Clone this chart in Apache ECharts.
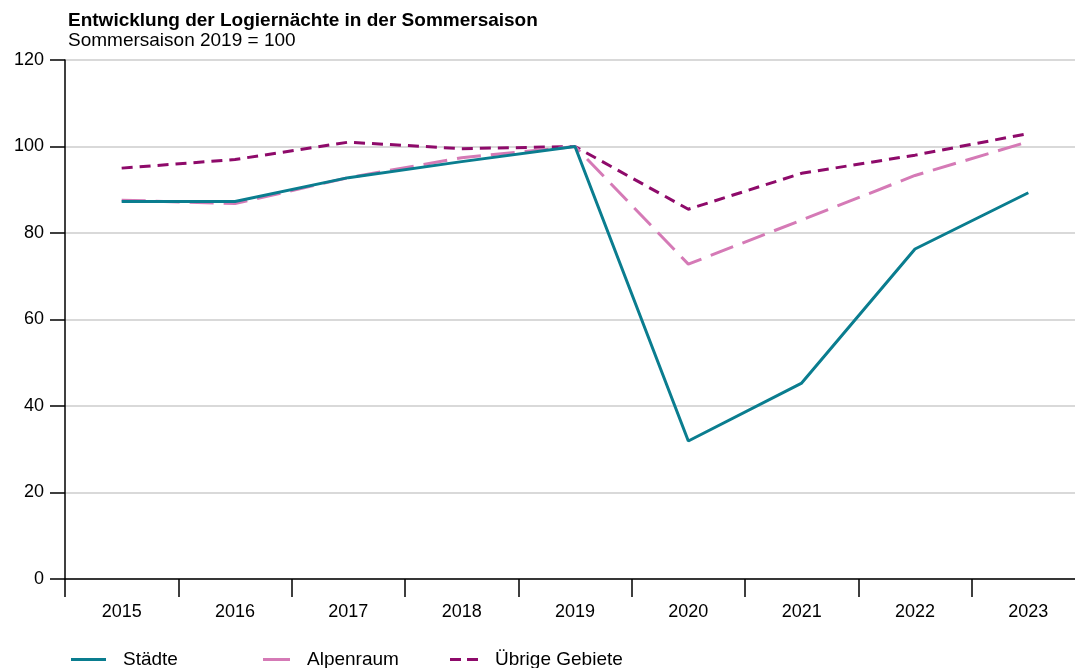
<!DOCTYPE html>
<html>
<head>
<meta charset="utf-8">
<script src="https://cdn.jsdelivr.net/npm/echarts@6/dist/echarts.min.js"></script>
<style>
  html, body { margin: 0; padding: 0; background: #fff; overflow: hidden; }
  /* etwas breiter als das Fenster: die Zeichenfläche läuft rechts aus dem Bild */
  #chart { width: 1085px; height: 668px; }
</style>
</head>
<body>
<div id="chart"></div>
<script>
// Jahre und Indexwerte (Sommersaison 2019 = 100)
var years = ['2015', '2016', '2017', '2018', '2019', '2020', '2021', '2022', '2023'];
var staedte = [87.3, 87.3, 92.8, 96.5, 100, 31.9, 45.3, 76.3, 89.3];
var alpenraum = [87.6, 86.8, 92.8, 97.4, 100, 72.8, 83.0, 93.3, 101.1];
var uebrige = [95.0, 97.0, 101.0, 99.5, 100, 85.5, 93.8, 98.0, 103.0];
var yTicks = [0, 20, 40, 60, 80, 100, 120];

var font = 'Liberation Sans, Arial, sans-serif';
var cTeal = '#0a7d8f', cPink = '#d57ab6', cPurple = '#8e0a6a';

var chart = echarts.init(document.getElementById('chart'));

// eine Legende pro Reihe, damit die Abstände wie im Original sind
function legendAt(x, name, w, icon) {
  return {
    left: x, top: 645, data: [{ name: name, icon: icon }],
    itemWidth: w, itemHeight: 3,
    textStyle: { fontFamily: font, fontSize: 19, color: '#000', padding: [0, 0, 0, 12] }
  };
}

chart.setOption({
  animation: false,
  title: {
    text: 'Entwicklung der Logiernächte in der Sommersaison',
    subtext: 'Sommersaison 2019 = 100',
    left: 63, top: 6, itemGap: 1,
    textStyle: { fontFamily: font, fontSize: 19, fontWeight: 'bold', color: '#000' },
    subtextStyle: { fontFamily: font, fontSize: 19, color: '#000' }
  },
  legend: [
    legendAt(66, 'Städte', 35, 'path://M0,0h35v3h-35z'),
    legendAt(258, 'Alpenraum', 27, 'path://M0,0h27v3h-27z'),
    legendAt(445, 'Übrige Gebiete', 28, 'path://M0,0h11v3h-11z M17,0h11v3h-11z')
  ],
  grid: { left: 65, top: 60, right: 0, bottom: 89, containLabel: false },
  xAxis: {
    type: 'category',
    data: years,
    boundaryGap: true,
    axisLine: { lineStyle: { color: '#000', width: 1.5 } },
    axisTick: { show: true, length: 18, lineStyle: { color: '#000', width: 1.5 } },
    axisLabel: { fontFamily: font, fontSize: 18, color: '#000', margin: 24 },
    splitLine: { show: false }
  },
  yAxis: {
    type: 'value',
    min: yTicks[0], max: yTicks[yTicks.length - 1], interval: 20,
    axisLine: { show: true, lineStyle: { color: '#000', width: 1.5 } },
    axisTick: { show: true, length: 15, lineStyle: { color: '#000', width: 1.5 } },
    axisLabel: { fontFamily: font, fontSize: 18, color: '#000', margin: 21 },
    splitLine: { show: true, lineStyle: { color: '#cccccc', width: 1.5 } }
  },
  series: [
    {
      name: 'Städte', type: 'line', data: staedte, symbol: 'none', z: 4,
      lineStyle: { color: cTeal, width: 3 }, itemStyle: { color: cTeal }
    },
    {
      name: 'Alpenraum', type: 'line', data: alpenraum, symbol: 'none', z: 3,
      lineStyle: { color: cPink, width: 3, type: [24, 10] }, itemStyle: { color: cPink }
    },
    {
      name: 'Übrige Gebiete', type: 'line', data: uebrige, symbol: 'none', z: 2,
      lineStyle: { color: cPurple, width: 3, type: [11, 7] }, itemStyle: { color: cPurple }
    }
  ]
});
</script>
</body>
</html>
